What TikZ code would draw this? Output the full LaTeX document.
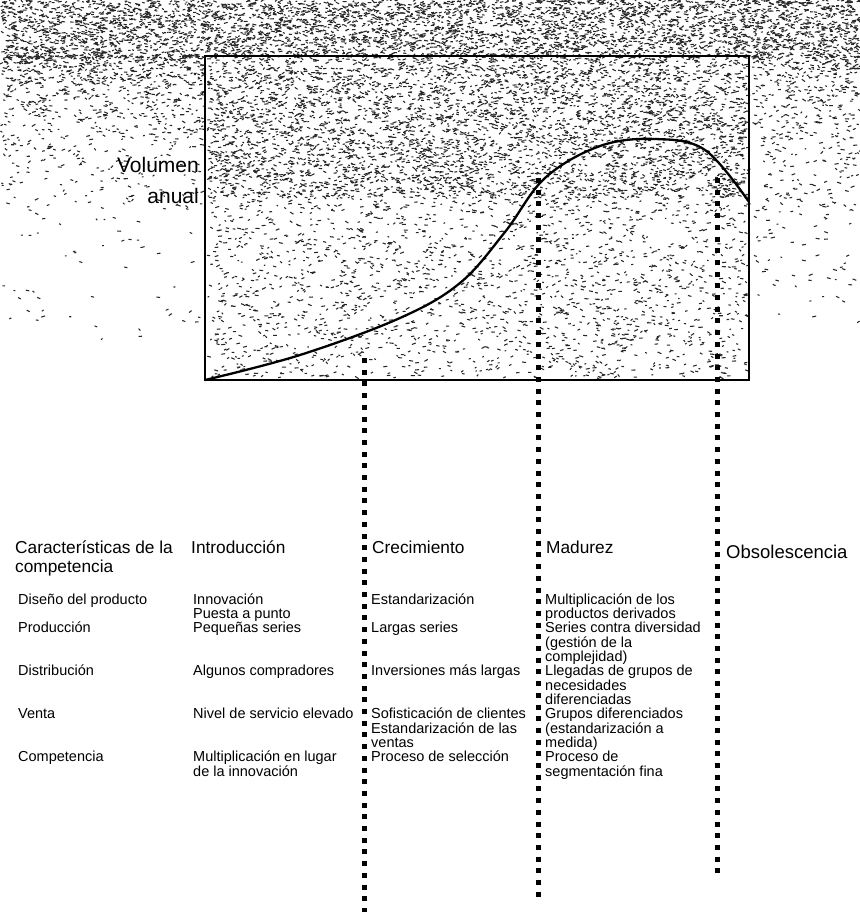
\documentclass[tikz,border=0pt]{standalone}
\usepackage{fontspec}
\setmainfont{Liberation Sans}
% scatter #1 short, mostly level strokes in the strip x0..x0+w, y0..y0+h
\newcommand\speckle[5]{%
  \foreach \k in {1,...,#1}{%
    \draw[speck] (#2+rnd*#3, #4+rnd*#5) -- ++(rnd*70-35:1.5+rnd*2.8);}}
% same, but thinning out towards the bottom of the strip
\newcommand\speckfade[5]{%
  \foreach \k in {1,...,#1}{%
    \draw[speck] (#2+rnd*#3, #4+rnd*rnd*#5) -- ++(rnd*70-35:1.5+rnd*2.8);}}
% fixed height of the first line of a text block
\newcommand\rowtop{\rule{0pt}{11.5pt}}
\newcommand\headtop{\rule{0pt}{14pt}}
% keep the baseline distance even, whatever the glyphs
\newcommand\tightlines{\lineskiplimit=-100pt\relax}
\begin{document}
\begin{tikzpicture}[x=1pt,y=-1pt,
  speck/.style={line width=1.05pt, black!85},
  frame/.style={line width=2.8pt},
  lifecurve/.style={line width=2.3pt, line join=round},
  stagerule/.style={line width=5pt, dash pattern=on 5pt off 6.7pt},
  bigtext/.style={anchor=base east, inner sep=0pt, font=\fontsize{21}{25}\selectfont},
  headtext/.style={anchor=base west, inner sep=0pt, font=\fontsize{17.3}{19}\selectfont},
  headblock/.style={anchor=north west, inner sep=0pt, align=left,
    font={\fontsize{17.3}{19}\selectfont\tightlines}},
  cell/.style={anchor=north west, inner sep=0pt, align=left,
    font={\fontsize{14.5}{14.33}\selectfont\tightlines}}]
\useasboundingbox (0,0) rectangle (859,912);
\pgfmathsetseed{4242}

% stippled shading of the upper part
\speckle{4300}{0}{859}{0}{58}
\speckle{4300}{207}{540}{58}{140}
\speckle{1900}{207}{540}{198}{180}
\speckfade{900}{0}{203}{55}{170}
\speckfade{500}{752}{107}{55}{280}
\speckle{50}{0}{200}{200}{140}

% chart frame
\coordinate (bl) at (205,380);
\coordinate (tr) at (749,56);
\draw[frame] (bl) rectangle (tr);

% annual volume over the product life
\draw[lifecurve] plot[smooth, tension=0.6] coordinates
  {(205,380) (300,355) (400,318) (460,283) (505,232) (545,178)
   (600,146) (655,139) (705,150) (749,202)};

% stage boundaries
\coordinate (g1a) at (364,358);  \coordinate (g1b) at (364,912);
\coordinate (g2a) at (538,178);  \coordinate (g2b) at (538,900);
\coordinate (g3a) at (717,178);  \coordinate (g3b) at (717,877);
\draw[stagerule] (g1a) -- (g1b);
\draw[stagerule] (g2a) -- (g2b);
\draw[stagerule] (g3a) -- (g3b);

% axis label
\node[bigtext] (vol) at (199,173) {Volumen};
\node[bigtext] (anu) at (199,203) {anual};

% column headings
\node[headblock] (h0) at (15,539) {\headtop Características de la\\competencia};
\node[headtext] (h1) at (191,553) {Introducción};
\node[headtext] (h2) at (372,553) {Crecimiento};
\node[headtext] (h3) at (546,553) {Madurez};
\node[headtext, font=\fontsize{18.5}{22}\selectfont] (h4) at (726,558) {Obsolescencia};

% row labels (first baselines at 604 + 14.33 k)
\node[cell] (r1) at (18,592.5) {\rowtop Diseño del producto};
\node[cell] (r2) at (18,621.2) {\rowtop Producción};
\node[cell] (r3) at (18,664.2) {\rowtop Distribución};
\node[cell] (r4) at (18,707.1) {\rowtop Venta};
\node[cell] (r5) at (18,750.1) {\rowtop Competencia};

% introduction
\node[cell] (a1) at (193,592.5) {\rowtop Innovación\\Puesta a punto};
\node[cell] (a2) at (193,621.2) {\rowtop Pequeñas series};
\node[cell] (a3) at (193,664.2) {\rowtop Algunos compradores};
\node[cell] (a4) at (193,707.1) {\rowtop Nivel de servicio elevado};
\node[cell] (a5) at (193,750.1) {\rowtop Multiplicación en lugar\\de la innovación};

% growth
\node[cell] (b1) at (371,592.5) {\rowtop Estandarización};
\node[cell] (b2) at (371,621.2) {\rowtop Largas series};
\node[cell] (b3) at (371,664.2) {\rowtop Inversiones más largas};
\node[cell] (b4) at (371,707.1) {\rowtop Sofisticación de clientes\\Estandarización de las\\ventas};
\node[cell] (b5) at (371,750.1) {\rowtop Proceso de selección};

% maturity
\node[cell] (c1) at (545,592.5) {\rowtop Multiplicación de los\\productos derivados};
\node[cell] (c2) at (545,621.2) {\rowtop Series contra diversidad\\(gestión de la\\complejidad)};
\node[cell] (c3) at (545,664.2) {\rowtop Llegadas de grupos de\\necesidades\\diferenciadas};
\node[cell] (c4) at (545,707.1) {\rowtop Grupos diferenciados\\(estandarización a\\medida)};
\node[cell] (c5) at (545,750.1) {\rowtop Proceso de\\segmentación fina};
\end{tikzpicture}
\end{document}
